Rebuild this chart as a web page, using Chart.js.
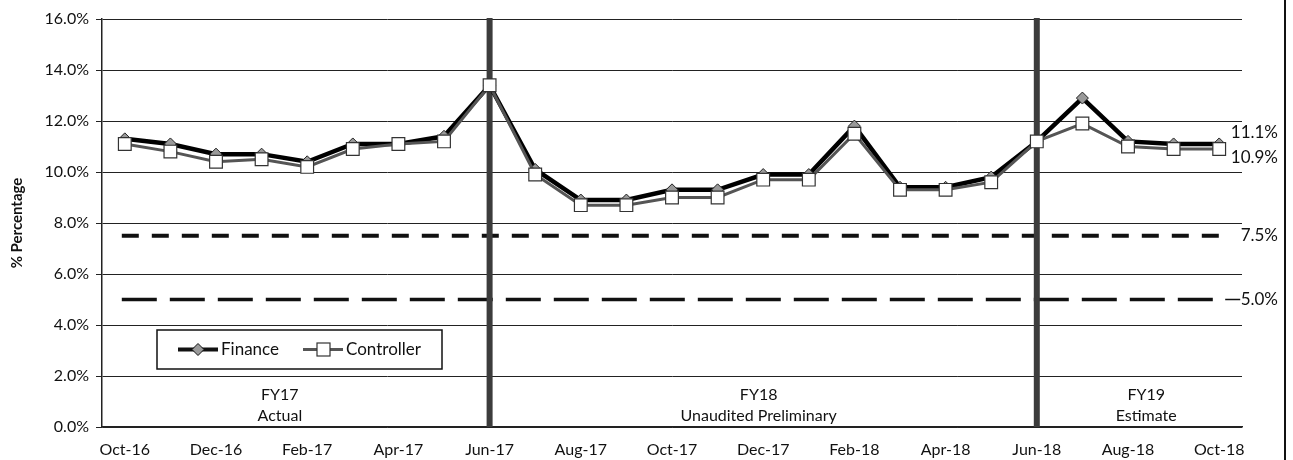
<!DOCTYPE html>
<html>
<head>
<meta charset="utf-8">
<title>Finance vs Controller</title>
<script src="https://cdn.jsdelivr.net/npm/chart.js@4.4.0/dist/chart.umd.min.js"></script>
<style>
  body { margin: 0; background: #fff; }
  #wrap { width: 1293px; height: 460px; }
</style>
</head>
<body>
<div id="wrap"><canvas id="rateChart" width="1293" height="460"></canvas></div>
<script>
// ---------- Data ----------
const months = ["Oct-16", "Nov-16", "Dec-16", "Jan-17", "Feb-17", "Mar-17", "Apr-17", "May-17", "Jun-17",
    "Jul-17", "Aug-17", "Sep-17", "Oct-17", "Nov-17", "Dec-17", "Jan-18", "Feb-18", "Mar-18", "Apr-18",
    "May-18", "Jun-18", "Jul-18", "Aug-18", "Sep-18", "Oct-18"];
const finance = [11.3, 11.1, 10.7, 10.7, 10.4, 11.1, 11.1, 11.4, 13.4, 10.1, 8.9, 8.9, 9.3, 9.3, 9.9, 9.9,
    11.8, 9.4, 9.4, 9.8, 11.2, 12.9, 11.2, 11.1, 11.1];
const controller = [11.1, 10.8, 10.4, 10.5, 10.2, 10.9, 11.1, 11.2, 13.4, 9.9, 8.7, 8.7, 9.0, 9.0, 9.7, 9.7,
    11.5, 9.3, 9.3, 9.6, 11.2, 11.9, 11.0, 10.9, 10.9];
const thresholds = [7.5, 5.0];
const dividers = ["Jun-17", "Jun-18"];
const periods = [["FY17", "Actual"], ["FY18", "Unaudited Preliminary"], ["FY19", "Estimate"]];
const yMin = 0, yMax = 16, yStep = 2;

const FONT = "Lato, 'Open Sans', sans-serif";
Chart.defaults.font.family = FONT;
Chart.defaults.color = "#111";

const pct = v => v.toFixed(1) + "%";

// ---------- Overlay drawing (targets, FY dividers, notes, legend) ----------
const overlays = {
    id: "overlays",
    beforeDatasetsDraw(chart) {
        const { ctx, chartArea, scales: { x, y } } = chart;
        const x0 = x.getPixelForValue(0);
        const x1 = x.getPixelForValue(months.length - 1);
        ctx.save();

        // dashed target lines
        ctx.strokeStyle = "#111";
        thresholds.forEach((t, i) => {
            const py = y.getPixelForValue(t);
            ctx.lineWidth = i === 0 ? 4 : 3.5;
            ctx.setLineDash(i === 0 ? [17, 13] : [35, 13]);
            ctx.beginPath();
            ctx.moveTo(x0 - 3, py);
            ctx.lineTo(x1 + 3, py);
            ctx.stroke();
        });
        ctx.setLineDash([]);

        // small leader to the 5.0% label
        const p5 = y.getPixelForValue(thresholds[1]);
        ctx.lineWidth = 1.5;
        ctx.beginPath();
        ctx.moveTo(x1 + 6, p5);
        ctx.lineTo(x1 + 21, p5);
        ctx.stroke();

        // fiscal year dividers
        ctx.strokeStyle = "#3c3c3c";
        ctx.lineWidth = 6;
        dividers.forEach(m => {
            const px = x.getPixelForValue(months.indexOf(m));
            ctx.beginPath();
            ctx.moveTo(px, chartArea.top - 1);
            ctx.lineTo(px, chartArea.bottom);
            ctx.stroke();
        });

        // period notes
        const at = [3.4, 13.9, 22.4];
        ctx.fillStyle = "#111";
        ctx.font = "16px " + FONT;
        ctx.textAlign = "center";
        ctx.textBaseline = "middle";
        periods.forEach((p, i) => {
            const px = x.getPixelForValue(at[i]);
            ctx.fillText(p[0], px, chartArea.bottom - 32);
            ctx.fillText(p[1], px, chartArea.bottom - 11);
        });
        ctx.restore();
    },
    afterDraw(chart) {
        const { ctx, chartArea, scales: { y } } = chart;
        ctx.save();
        ctx.fillStyle = "#111";
        ctx.font = "17px " + FONT;
        ctx.textAlign = "right";
        ctx.textBaseline = "middle";
        const rx = chartArea.right + 36;
        ctx.fillText(pct(finance[finance.length - 1]), rx, y.getPixelForValue(finance[finance.length - 1]) - 11);
        ctx.fillText(pct(controller[controller.length - 1]), rx, y.getPixelForValue(controller[controller.length - 1]) + 8);
        thresholds.forEach(t => ctx.fillText(pct(t), rx, y.getPixelForValue(t)));

        // frame edge on the right
        ctx.strokeStyle = "#111";
        ctx.lineWidth = 2;
        ctx.beginPath();
        ctx.moveTo(chartArea.right + 43, 0);
        ctx.lineTo(chartArea.right + 43, chart.height);
        ctx.stroke();

        // legend box
        const lx = chartArea.left + 55, ly = chartArea.top + 311;
        ctx.fillStyle = "#fff";
        ctx.fillRect(lx, ly, 285, 39);
        ctx.lineWidth = 1.5;
        ctx.strokeRect(lx, ly, 285, 39);
        const my = ly + 19.5;

        // Finance sample
        ctx.strokeStyle = "#111";
        ctx.lineWidth = 4;
        ctx.beginPath(); ctx.moveTo(lx + 21, my); ctx.lineTo(lx + 61, my); ctx.stroke();
        ctx.fillStyle = "#9a9a9a";
        ctx.lineWidth = 1;
        ctx.beginPath();
        ctx.moveTo(lx + 41, my - 6); ctx.lineTo(lx + 47, my); ctx.lineTo(lx + 41, my + 6); ctx.lineTo(lx + 35, my);
        ctx.closePath(); ctx.fill(); ctx.stroke();

        // Controller sample
        ctx.strokeStyle = "#555";
        ctx.lineWidth = 3;
        ctx.beginPath(); ctx.moveTo(lx + 146, my); ctx.lineTo(lx + 186, my); ctx.stroke();
        ctx.fillStyle = "#fff";
        ctx.strokeStyle = "#333";
        ctx.lineWidth = 1.2;
        ctx.fillRect(lx + 160, my - 6.5, 13, 13);
        ctx.strokeRect(lx + 160, my - 6.5, 13, 13);

        ctx.fillStyle = "#111";
        ctx.font = "17px " + FONT;
        ctx.textAlign = "left";
        ctx.fillText("Finance", lx + 64, my);
        ctx.fillText("Controller", lx + 189, my);
        ctx.restore();
    }
};

// ---------- Chart ----------
new Chart(document.getElementById("rateChart"), {
    type: "line",
    data: {
        labels: months,
        datasets: [{
            label: "Finance",
            data: finance,
            borderColor: "#000",
            borderWidth: 4.5,
            pointStyle: "rectRot",
            pointRadius: 6,
            pointBackgroundColor: "#999",
            pointBorderColor: "#222",
            pointBorderWidth: 1,
            order: 2
        }, {
            label: "Controller",
            data: controller,
            borderColor: "#555",
            borderWidth: 3,
            pointStyle: "rect",
            pointRadius: 9,
            pointBackgroundColor: "#fff",
            pointBorderColor: "#333",
            pointBorderWidth: 1.2,
            order: 1
        }]
    },
    options: {
        responsive: false,
        animation: false,
        layout: { padding: { top: 19, right: 51, left: 0, bottom: 0 } },
        plugins: { legend: { display: false }, tooltip: { enabled: false } },
        scales: {
            x: {
                offset: true,
                grid: { display: false },
                border: { display: true, color: "#222", width: 1.5 },
                ticks: {
                    autoSkip: false, maxRotation: 0, padding: 5,
                    font: { size: 16 },
                    callback: (v, i) => (i % 2 === 0 ? months[i] : "")
                },
                afterFit(s) { s.height = 33; }
            },
            y: {
                min: yMin, max: yMax,
                ticks: { stepSize: yStep, padding: 7, font: { size: 16 }, callback: v => pct(v) },
                grid: { color: "#222", tickLength: 6 },
                border: { color: "#222", width: 1.5 },
                title: { display: true, text: "% Percentage", font: { size: 15, weight: "bold" }, padding: { top: 8, bottom: 0 } },
                afterFit(s) { s.width = 102; }
            }
        }
    },
    plugins: [overlays]
});
</script>
</body>
</html>
